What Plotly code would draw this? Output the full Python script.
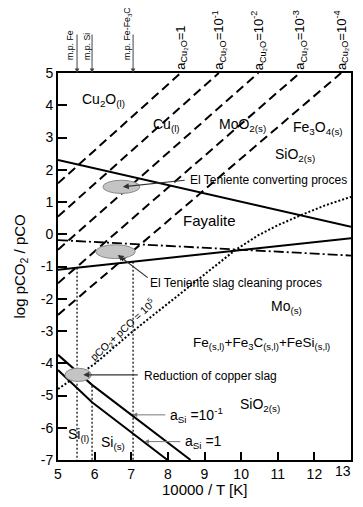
import plotly.graph_objects as go

FONT = "Liberation Sans, Arial, sans-serif"

# ---------------- data ----------------
x_ticks = [5, 6, 7, 8, 9, 10, 11, 12, 13]
x_tick_labels = ["5", "6", "7", "8", "9", "10", "11", "12", "13"]
y_ticks = [-7, -6, -5, -4, -3, -2, -1, 0, 1, 2, 3, 4, 5]
y_tick_labels = ["-7", "-6", "-5", "-4", "-3", "-2", "-1", "0", "1", "2", "3", "4", "5"]

# a_Cu2O iso-activity lines (dashed)
cu2o_labels = ["1", "10<sup>-1</sup>", "10<sup>-2</sup>", "10<sup>-3</sup>", "10<sup>-4</sup>"]
cu2o_x0 = [5, 5, 5, 5, 5]
cu2o_y0 = [1.58, 0.55, -0.48, -1.52, -2.5]
cu2o_x1 = [8.35, 9.39, 10.47, 11.6, 12.73]
cu2o_y1 = [5, 5, 5, 5, 5]

# solid boundaries
upper_x = [5, 13]
upper_y = [2.3, 0.23]
lower_x = [5, 13]
lower_y = [-1.1, -0.12]
# dash-dot boundary
dashdot_x = [5, 13]
dashdot_y = [-0.18, -0.66]
# pCO2 + pCO = 10^5 (dotted)
boud_x = [5, 5.55, 6, 7, 8, 9, 9.84, 10.47, 11, 11.65, 12.3, 13]
boud_y = [-4.8, -4.38, -4.02, -3.05, -2.15, -1.25, -0.49, -0.03, 0.28, 0.6, 0.9, 1.16]
# a_Si lines
asi01_x = [5, 5.93, 8.62]
asi01_y = [-3.74, -4.67, -7]
asi1_x = [5, 5.93, 7.99]
asi1_y = [-4.21, -5.21, -7]

# melting points (vertical dotted lines)
mp_labels = ["m.p. Fe", "m.p. Si", "m.p. Fe-Fe<sub>3</sub>C"]
mp_x = [5.52, 5.93, 7.05]
mp_top = [-1.04, -4.7, -0.85]
mp_bottom = [-7, -7, -7]
mp_text_x = [5.33, 5.78, 6.9]

# process regions (ellipses)
ell_x = [6.73, 6.57, 5.55]
ell_y = [1.47, -0.54, -4.36]
ell_w = [1.01, 1.08, 0.72]
ell_h = [0.41, 0.43, 0.41]

# process labels with arrows
proc_labels = ["El Teniente converting proces", "El Teniente slag cleaning proces", "Reduction of copper slag"]
proc_text_x = [8.55, 7.45, 7.28]
proc_text_y = [1.68, -1.52, -4.38]
proc_tail_x = [8.5, 7.49, 7.22]
proc_tail_y = [1.68, -1.38, -4.36]
proc_head_x = [6.77, 6.63, 5.69]
proc_head_y = [1.47, -0.64, -4.36]

# a_Si labels with leaders
asi_labels = ["a<sub>Si</sub> =10<sup>-1</sup>", "a<sub>Si</sub> =1"]
asi_text_x = [8.0, 8.42]
asi_text_y = [-5.6, -6.43]
asi_tail_x = [7.97, 8.38]
asi_head_x = [7.04, 7.36]
asi_head_y = [-5.6, -6.43]

# phase field labels
phase_labels = ["Cu<sub>2</sub>O<sub>(l)</sub>", "Cu<sub>(l)</sub>", "MoO<sub>2(s)</sub>",
                "Fe<sub>3</sub>O<sub>4(s)</sub>", "SiO<sub>2(s)</sub>", "Fayalite", "Mo<sub>(s)</sub>",
                "Fe<sub>(s,l)</sub>+Fe<sub>3</sub>C<sub>(s,l)</sub>+FeSi<sub>(s,l)</sub>",
                "SiO<sub>2(s)</sub>", "Si<sub>(l)</sub>", "Si<sub>(s)</sub>"]
phase_x = [6.23, 7.97, 10.05, 12.1, 11.47, 9.14, 11.23, 10.56, 10.52, 5.57, 6.5]
phase_y = [4.16, 3.39, 3.39, 3.29, 2.46, 0.44, -2.25, -3.38, -5.29, -6.22, -6.48]
phase_size = [14, 14, 14, 14, 14, 15, 14, 13.5, 14, 14, 14]

boud_label = "pCO<sub>2</sub>+ pCO = 10<sup>5</sup>"
boud_label_x = 6.78
boud_label_y = -2.98

# ---------------- figure ----------------
fig = go.Figure()

for i in range(len(cu2o_x0)):
    fig.add_trace(go.Scatter(x=[cu2o_x0[i], cu2o_x1[i]], y=[cu2o_y0[i], cu2o_y1[i]],
                             mode="lines", line=dict(color="black", width=2, dash="9px,5px"),
                             hoverinfo="skip", showlegend=False))

fig.add_trace(go.Scatter(x=upper_x, y=upper_y, mode="lines",
                         line=dict(color="black", width=2), showlegend=False))
fig.add_trace(go.Scatter(x=lower_x, y=lower_y, mode="lines",
                         line=dict(color="black", width=2), showlegend=False))
fig.add_trace(go.Scatter(x=dashdot_x, y=dashdot_y, mode="lines",
                         line=dict(color="black", width=1.8, dash="10px,3px,2px,3px"), showlegend=False))
fig.add_trace(go.Scatter(x=boud_x, y=boud_y, mode="lines",
                         line=dict(color="black", width=2, dash="2px,2px"), showlegend=False))
fig.add_trace(go.Scatter(x=asi01_x, y=asi01_y, mode="lines",
                         line=dict(color="black", width=2), showlegend=False))
fig.add_trace(go.Scatter(x=asi1_x, y=asi1_y, mode="lines",
                         line=dict(color="black", width=2), showlegend=False))

for i in range(len(mp_x)):
    fig.add_trace(go.Scatter(x=[mp_x[i], mp_x[i]], y=[mp_top[i], mp_bottom[i]], mode="lines",
                             line=dict(color="black", width=1.2, dash="2px,2px"), showlegend=False))

shapes = []
for i in range(len(ell_x)):
    shapes.append(dict(type="circle", xref="x", yref="y",
                       x0=ell_x[i] - ell_w[i] / 2, x1=ell_x[i] + ell_w[i] / 2,
                       y0=ell_y[i] - ell_h[i] / 2, y1=ell_y[i] + ell_h[i] / 2,
                       fillcolor="#c4c4c4", line=dict(color="#8a8a8a", width=1), layer="above"))

ann = []
# last x tick label (kept inside the page edge)
ann.append(dict(x=x_ticks[-1], y=0, xref="x", yref="paper", showarrow=False,
                text=x_tick_labels[-1], xanchor="right", yanchor="top", xshift=2, yshift=-1,
                font=dict(size=14, color="black", family=FONT)))
# a_Cu2O labels
for i in range(len(cu2o_labels)):
    ann.append(dict(x=cu2o_x1[i], y=5, xref="x", yref="y", showarrow=False,
                    text="a<sub>Cu₂O</sub>=" + cu2o_labels[i], textangle=-90,
                    xanchor="center", yanchor="bottom", yshift=1,
                    font=dict(size=13, color="black", family=FONT)))
# melting points
for i in range(len(mp_x)):
    ann.append(dict(x=mp_x[i], y=5, xref="x", yref="y", text="", showarrow=True,
                    ax=0, ay=-40, arrowhead=2, arrowsize=0.9, arrowwidth=1, arrowcolor="#444"))
    ann.append(dict(x=mp_text_x[i], y=5, xref="x", yref="y", showarrow=False,
                    text=mp_labels[i], textangle=-90, xanchor="center", yanchor="bottom", yshift=11,
                    font=dict(size=8.8, color="black", family=FONT)))
# process arrows
for i in range(len(proc_labels)):
    ann.append(dict(x=proc_head_x[i], y=proc_head_y[i], ax=proc_tail_x[i], ay=proc_tail_y[i],
                    xref="x", yref="y", axref="x", ayref="y", text="", showarrow=True,
                    arrowhead=2, arrowsize=1, arrowwidth=1.2, arrowcolor="#333"))
    ann.append(dict(x=proc_text_x[i], y=proc_text_y[i], xref="x", yref="y", showarrow=False,
                    text=proc_labels[i], xanchor="left", yanchor="middle",
                    font=dict(size=12, color="black", family=FONT)))
# a_Si leaders
for i in range(len(asi_labels)):
    ann.append(dict(x=asi_head_x[i], y=asi_head_y[i], ax=asi_tail_x[i], ay=asi_head_y[i],
                    xref="x", yref="y", axref="x", ayref="y", text="", showarrow=True,
                    arrowhead=2, arrowsize=0.9, arrowwidth=1, arrowcolor="#777"))
    ann.append(dict(x=asi_text_x[i], y=asi_text_y[i], xref="x", yref="y", showarrow=False,
                    text=asi_labels[i], xanchor="left", yanchor="middle",
                    font=dict(size=14, color="black", family=FONT)))
# phase labels
for i in range(len(phase_labels)):
    ann.append(dict(x=phase_x[i], y=phase_y[i], xref="x", yref="y", showarrow=False,
                    text=phase_labels[i], xanchor="center", yanchor="middle",
                    font=dict(size=phase_size[i], color="black", family=FONT)))
# Boudouard label
ann.append(dict(x=boud_label_x, y=boud_label_y, xref="x", yref="y", showarrow=False,
                text=boud_label, textangle=-43, xanchor="center", yanchor="middle",
                font=dict(size=10.5, color="black", family=FONT)))
# axis titles
ann.append(dict(x=0, y=0.5, xref="paper", yref="paper", xshift=-38, showarrow=False,
                text="log pCO<sub>2</sub> / pCO", textangle=-90, xanchor="center", yanchor="middle",
                font=dict(size=15, color="black", family=FONT)))
ann.append(dict(x=0.5, y=0, xref="paper", yref="paper", yshift=-29, showarrow=False,
                text="10000 / T [K]", xanchor="center", yanchor="middle",
                font=dict(size=15, color="black", family=FONT)))

# page body has an 8px margin; keep the figure inside the 363x507 window
fig.update_layout(
    width=347, height=491,
    margin=dict(l=50, r=2, t=65, b=39, pad=0),
    plot_bgcolor="white", paper_bgcolor="white",
    font=dict(family=FONT, color="black", size=14),
    showlegend=False,
    shapes=shapes,
    annotations=ann,
    xaxis=dict(range=[5, 13], tickvals=x_ticks, ticktext=x_tick_labels[:-1] + [""],
               ticks="inside", ticklen=8, tickwidth=1.5, tickcolor="black",
               showline=True, linewidth=2, linecolor="black", mirror=True,
               showgrid=False, zeroline=False, tickfont=dict(size=14)),
    yaxis=dict(range=[-7, 5], tickvals=y_ticks, ticktext=y_tick_labels,
               ticks="inside", ticklen=9, tickwidth=1.5, tickcolor="black",
               showline=True, linewidth=2, linecolor="black", mirror=True,
               showgrid=False, zeroline=False, tickfont=dict(size=14)),
)

fig.write_html("out.html")
